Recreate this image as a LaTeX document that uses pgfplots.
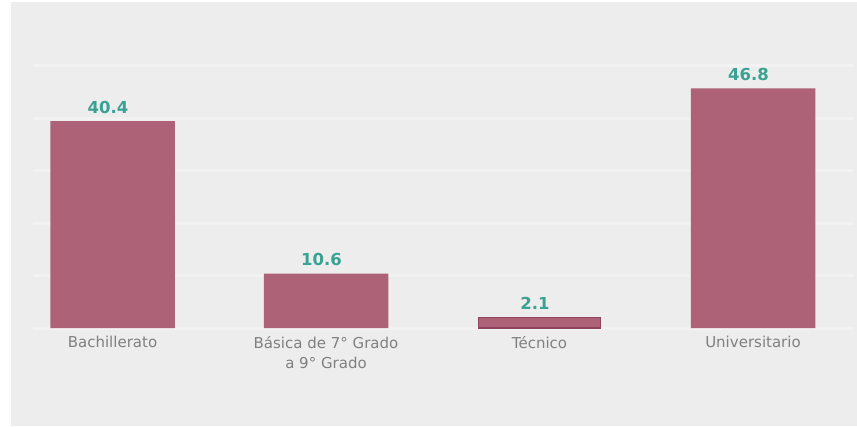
\documentclass[border=0pt]{standalone}
\usepackage{pgfplots}
\pgfplotsset{compat=1.18}
\usepackage{fontspec}
\setmainfont{DejaVu Sans}
\definecolor{bgc}{HTML}{EDEDED}
\definecolor{gridc}{HTML}{F2F2F2}
\definecolor{barc}{HTML}{AD6277}
\definecolor{bard}{HTML}{8E4660}
\definecolor{valc}{HTML}{3AA292}
\definecolor{labc}{HTML}{808080}
\begin{document}
\begin{tikzpicture}[x=1pt,y=1pt]
\fill[white] (0,0) rectangle (857,426);
\fill[bgc] (11,0) rectangle (857,424);
\begin{axis}[
  at={(33pt,98pt)}, anchor=south west,
  scale only axis, width=820pt, height=262.4pt,
  xmin=-0.3724, xmax=3.4684, ymin=0, ymax=51.25,
  axis line style={draw=none}, tick style={draw=none},
  ytick={0,10.25,20.5,30.75,41,51.25}, yticklabels={},
  ymajorgrids, major grid style={draw=gridc, line width=3pt},
  xtick={0,1,2,3},
  xticklabels={{Bachillerato},{Básica de 7° Grado\\a 9° Grado},{Técnico},{Universitario}},
  xticklabel style={align=center, anchor=north, inner sep=0pt, yshift=-8pt,
    font=\fontsize{15}{20.5}\selectfont, text=labc},
  nodes near coords,
  every node near coord/.append style={anchor=base, inner sep=0pt, yshift=8pt, xshift=-4.5pt,
    font=\fontsize{16.5}{20}\selectfont\bfseries, text=valc},
  point meta=explicit symbolic,
]
\addplot[ybar, bar shift=0pt, bar width=124.5pt, fill=barc, draw=none]
  coordinates {(0,40.4) [40.4] (1,10.6) [10.6] (3,46.8) [46.8]};
\addplot[ybar, bar shift=0pt, bar width=122pt, fill=barc, draw=bard, line width=1.2pt]
  coordinates {(2,2.1) [2.1]};
\end{axis}
\end{tikzpicture}
\end{document}
